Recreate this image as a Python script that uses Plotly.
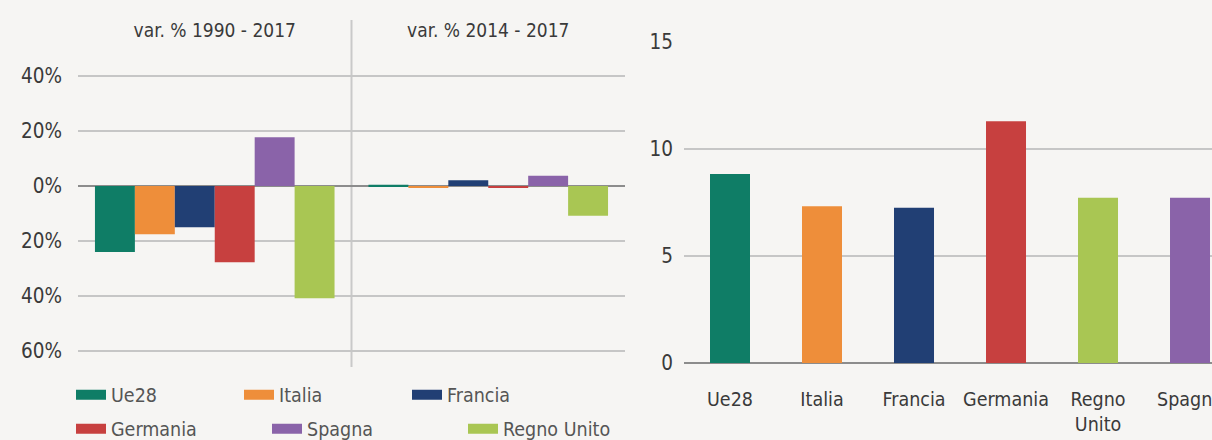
import plotly.graph_objects as go

# ---------------- data ----------------
countries = ["Ue28", "Italia", "Francia", "Germania", "Spagna", "Regno Unito"]
colors = ["#0F7D66", "#EE8E3A", "#213F74", "#C7403F", "#8A63A9", "#A9C653"]
periods = ["var. % 1990 - 2017", "var. % 2014 - 2017"]
var_1990_2017 = [-24.0, -17.5, -15.0, -27.7, 17.8, -40.8]
var_2014_2017 = [0.5, -0.4, 2.1, -0.5, 3.8, -10.8]

left_tickvals = [-60, -40, -20, 0, 20, 40]
left_ticktext = ["60%", "40%", "20%", "0%", "20%", "40%"]

pc_keys = ["Ue28", "Italia", "Francia", "Germania", "Regno Unito", "Spagna"]
pc_labels = ["Ue28", "Italia", "Francia", "Germania", "Regno<br>Unito", "Spagna"]
pc_values = [8.83, 7.33, 7.25, 11.3, 7.72, 7.72]
right_tickvals = [0, 5, 10, 15]

legend_row1 = ["Ue28", "Italia", "Francia"]
legend_row2 = ["Germania", "Spagna", "Regno Unito"]

# ---------------- style ----------------
FONT = "DejaVu Sans Condensed, Liberation Sans Narrow, Arial Narrow, sans-serif"
BG = "#F6F5F3"
GRID = "#C6C6C6"
ZERO = "#8C8C8C"
TXT = "#3A3A3A"
W, H = 1212, 440
color_of = dict(zip(countries, colors))


def px_y(p):
    return (H - p) / H


def px_x(p):
    return p / W


fig = go.Figure()

# left: grouped bars
for c, col, a, b in zip(countries, colors, var_1990_2017, var_2014_2017):
    fig.add_trace(go.Bar(
        x=periods, y=[a, b], name=c, marker=dict(color=col, line=dict(width=0)),
        xaxis="x", yaxis="y", showlegend=False,
    ))

# legend entries (wide swatches)
for c in countries:
    fig.add_trace(go.Scatter(
        x=[None], y=[None], mode="lines", name=c,
        line=dict(color=color_of[c], width=12),
        xaxis="x", yaxis="y",
        legend="legend" if c in legend_row1 else "legend2",
    ))

# right: per-capita bars
fig.add_trace(go.Bar(
    x=pc_labels, y=pc_values,
    marker=dict(color=[color_of[k] for k in pc_keys], line=dict(width=0)),
    width=40 / 92, xaxis="x2", yaxis="y2", showlegend=False,
))

# divider line between the two periods
fig.add_shape(type="line", xref="x", yref="paper", x0=0.5, x1=0.5,
              y0=px_y(367), y1=px_y(20), line=dict(color="#C9C9C9", width=2), layer="below")

fig.update_layout(
    width=W, height=H,
    margin=dict(l=0, r=0, t=0, b=0, autoexpand=False),
    paper_bgcolor=BG, plot_bgcolor=BG,
    font=dict(family=FONT, size=20, color=TXT),
    barmode="group", bargap=0.124, bargroupgap=0,
    xaxis=dict(domain=[px_x(78), px_x(625)], anchor="y", side="top",
               showgrid=False, showline=False, zeroline=False, ticks="",
               tickfont=dict(size=19, color=TXT), fixedrange=True),
    yaxis=dict(domain=[px_y(367), px_y(42)], anchor="x",
               range=[-65.8, 52.4], tickvals=left_tickvals, ticktext=left_ticktext,
               showgrid=True, gridcolor=GRID, gridwidth=2,
               zeroline=True, zerolinecolor=ZERO, zerolinewidth=2,
               showline=False, ticks="", ticklabelstandoff=15,
               tickfont=dict(size=20.5, color=TXT)),
    xaxis2=dict(domain=[px_x(684), 1.0], anchor="y2", range=[-0.5, 5.239],
                showgrid=False, showline=False, zeroline=False, ticks="",
                ticklabelstandoff=22, tickfont=dict(size=19.5, color=TXT)),
    yaxis2=dict(domain=[px_y(363), px_y(42)], anchor="x2", range=[0, 15],
                tickvals=right_tickvals,
                showgrid=True, gridcolor=GRID, gridwidth=2,
                zeroline=True, zerolinecolor=ZERO, zerolinewidth=2,
                showline=False, ticks="", ticklabelstandoff=10,
                tickfont=dict(size=20.5, color=TXT)),
    legend=dict(orientation="h", x=px_x(71), xanchor="left", y=px_y(395), yanchor="middle",
                entrywidth=123, bgcolor="rgba(0,0,0,0)",
                font=dict(family=FONT, size=19.5, color="#555555")),
    legend2=dict(orientation="h", x=px_x(71), xanchor="left", y=px_y(429), yanchor="middle",
                 entrywidth=151, bgcolor="rgba(0,0,0,0)",
                 font=dict(family=FONT, size=19.5, color="#555555")),
)

fig.write_html(
    "out.html",
    config={"displayModeBar": False},
    post_script="document.body.style.margin='0';document.body.style.padding='0';"
                "document.body.style.overflow='hidden';",
)
